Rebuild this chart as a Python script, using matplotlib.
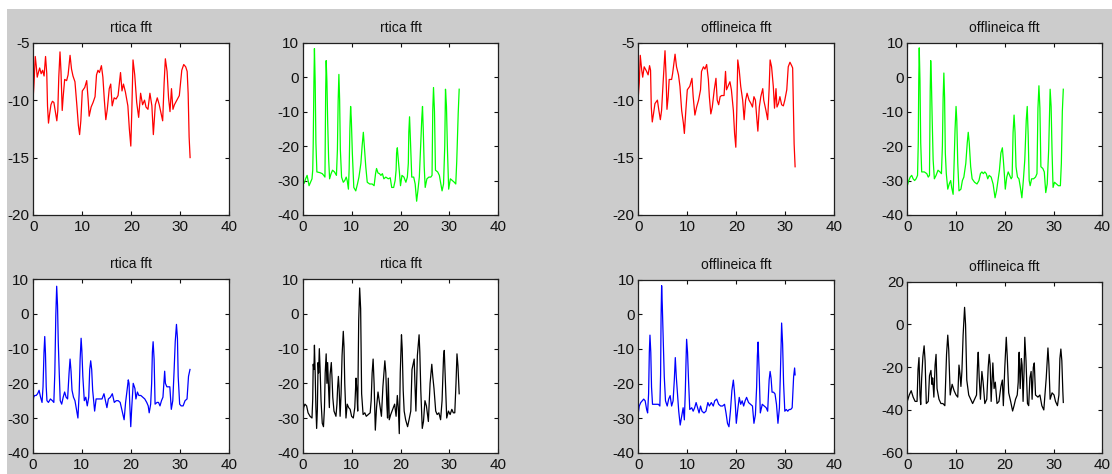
import matplotlib
matplotlib.use("Agg")
import matplotlib.pyplot as plt
from matplotlib.patches import Rectangle

plt.rcParams['font.family'] = ['Liberation Sans', 'DejaVu Sans']
plt.rcParams['axes.unicode_minus'] = False

# ---- spectra: (frequency bin, magnitude in dB) ----
rtica_ch1 = [(0, -9.6), (0.15, -8.5), (0.4, -6.2), (0.6, -7.0), (0.8, -8.0), (1.1, -7.5), (1.3, -7.2),
             (1.6, -7.7), (1.9, -7.4), (2.2, -7.9), (2.5, -6.2), (2.75, -7.7), (2.9, -10.5), (3.1, -12.0),
             (3.3, -11.3), (3.6, -10.4), (3.9, -10.1), (4.2, -10.2), (4.5, -11.0), (4.8, -11.8), (5.0, -10.9),
             (5.2, -8.0), (5.45, -5.8), (5.65, -7.5), (5.9, -10.9), (6.1, -9.7), (6.4, -8.2), (6.8, -8.3),
             (7.1, -7.8), (7.5, -6.1), (7.8, -7.3), (8.1, -7.9), (8.5, -8.4), (8.9, -10.5), (9.2, -12.2),
             (9.45, -13.0), (9.7, -11.8), (10.0, -9.2), (10.5, -8.9), (10.9, -8.3), (11.2, -10.0), (11.4, -11.4),
             (11.8, -10.6), (12.2, -10.2), (12.6, -9.7), (12.9, -7.8), (13.2, -7.4), (13.5, -7.6), (13.9, -7.0),
             (14.2, -8.0), (14.5, -10.0), (14.8, -11.7), (15.1, -10.8), (15.5, -9.0), (15.8, -8.6), (16.1, -10.5),
             (16.5, -9.8), (16.9, -9.9), (17.3, -9.6), (17.8, -7.6), (18.1, -9.2), (18.4, -8.6), (18.8, -9.3),
             (19.3, -10.5), (19.6, -12.5), (19.9, -14.0), (20.1, -11.0), (20.35, -6.5), (20.7, -7.8), (21.1, -10.2),
             (21.5, -11.5), (21.9, -9.4), (22.3, -10.4), (22.7, -10.0), (23.0, -10.6), (23.4, -10.8), (23.8, -9.4),
             (24.2, -10.5), (24.5, -13.0), (24.9, -10.4), (25.3, -9.8), (25.7, -10.4), (26.0, -11.0), (26.4, -11.8),
             (26.7, -8.5), (26.95, -6.4), (27.3, -7.5), (27.6, -9.8), (27.9, -11.0), (28.2, -9.0), (28.5, -10.8),
             (28.8, -10.4), (29.3, -10.0), (29.8, -9.6), (30.3, -7.4), (30.7, -6.9), (31.1, -7.1), (31.4, -7.5),
             (31.6, -9.4), (31.8, -13.2), (32.0, -15.0)]

rtica_ch2 = [(0, -30.5), (0.3, -30.8), (0.6, -29.5), (0.9, -28.5), (1.1, -30.0), (1.3, -31.5), (1.6, -30.5),
             (1.9, -29.5), (2.05, -27.0), (2.15, -19.5), (2.3, -1.0), (2.4, 8.3), (2.55, -1.2), (2.7, -19.0),
             (2.9, -27.5), (3.5, -27.7), (4.0, -28.0), (4.3, -28.5), (4.55, -29.0), (4.7, -4.0), (4.8, 4.8),
             (4.95, -1.2), (5.1, -12.5), (5.3, -23.5), (5.5, -29.5), (5.8, -28.0), (6.1, -27.0), (6.5, -27.5),
             (6.9, -28.5), (7.1, -21.0), (7.25, -7.0), (7.4, 0.8), (7.55, -6.5), (7.7, -21.0), (7.95, -29.0),
             (8.3, -30.5), (8.6, -30.0), (8.9, -29.0), (9.1, -30.0), (9.35, -32.5), (9.5, -26.5), (9.65, -15.0),
             (9.8, -8.5), (9.95, -12.5), (10.15, -22.0), (10.45, -32.0), (10.85, -33.0), (11.2, -31.0),
             (11.5, -29.0), (11.9, -25.0), (12.15, -20.0), (12.4, -16.0), (12.6, -20.0), (12.9, -26.0),
             (13.2, -30.5), (13.7, -31.0), (14.2, -31.0), (14.6, -31.5), (14.9, -28.0), (15.1, -26.5),
             (15.4, -27.8), (15.7, -28.0), (16.0, -28.5), (16.3, -28.0), (16.6, -29.5), (17.0, -29.0),
             (17.5, -29.5), (17.9, -29.2), (18.2, -32.0), (18.6, -32.0), (18.9, -30.0), (19.1, -27.0),
             (19.2, -22.0), (19.35, -20.5), (19.55, -24.0), (19.8, -28.0), (20.0, -31.5), (20.3, -28.5),
             (20.7, -29.0), (21.1, -30.5), (21.4, -29.0), (21.6, -25.0), (21.7, -16.0), (21.85, -11.5),
             (22.05, -19.0), (22.3, -29.0), (22.7, -29.0), (23.0, -31.0), (23.3, -36.0), (23.55, -33.0),
             (23.85, -29.0), (24.15, -19.0), (24.35, -12.0), (24.5, -8.5), (24.65, -15.0), (24.85, -26.0),
             (25.05, -32.0), (25.4, -29.5), (25.8, -29.0), (26.2, -29.0), (26.45, -28.5), (26.6, -9.5),
             (26.75, -3.0), (26.95, -10.0), (27.15, -27.0), (27.6, -27.5), (27.95, -28.5), (28.25, -31.0),
             (28.5, -33.0), (28.8, -31.0), (29.05, -20.0), (29.2, -3.5), (29.4, -8.5), (29.6, -21.0),
             (29.85, -32.5), (30.2, -29.5), (30.6, -30.0), (31.0, -30.5), (31.3, -31.0), (31.5, -24.5),
             (31.8, -10.5), (32.0, -3.5)]

rtica_ch3 = [(0, -26.0), (0.2, -24.0), (0.4, -23.5), (0.7, -23.5), (1.0, -23.0), (1.3, -22.0), (1.6, -24.0),
             (1.9, -25.5), (2.1, -21.0), (2.3, -11.0), (2.45, -6.5), (2.6, -11.5), (2.75, -21.0), (2.9, -25.0),
             (3.2, -25.5), (3.6, -24.5), (4.0, -25.0), (4.3, -25.5), (4.5, -17.0), (4.7, -0.5), (4.88, 8.0),
             (5.05, 2.5), (5.2, -8.0), (5.4, -17.0), (5.6, -25.0), (5.9, -26.0), (6.2, -24.0), (6.5, -22.5),
             (6.8, -24.0), (7.1, -24.5), (7.4, -17.0), (7.6, -13.0), (7.8, -16.5), (8.0, -22.0), (8.3, -24.0),
             (8.6, -25.0), (8.9, -27.5), (9.2, -30.0), (9.45, -23.0), (9.65, -13.0), (9.85, -7.0), (10.0, -10.5),
             (10.2, -18.0), (10.5, -25.0), (10.8, -24.0), (11.1, -26.5), (11.4, -24.0), (11.6, -16.0),
             (11.8, -13.5), (12.0, -16.0), (12.2, -22.0), (12.4, -25.0), (12.6, -28.0), (12.9, -24.5),
             (13.3, -24.5), (13.7, -24.5), (14.1, -24.5), (14.5, -23.0), (14.8, -25.0), (15.1, -27.0),
             (15.4, -24.5), (15.8, -24.0), (16.2, -23.0), (16.6, -25.5), (17.0, -25.0), (17.4, -25.0),
             (17.8, -25.5), (18.2, -28.0), (18.6, -30.5), (18.9, -25.5), (19.2, -22.0), (19.45, -19.0),
             (19.6, -20.0), (19.75, -26.0), (19.95, -32.5), (20.15, -27.0), (20.45, -20.0), (20.8, -21.5),
             (21.0, -24.5), (21.3, -22.5), (21.6, -23.5), (22.0, -23.5), (22.4, -24.0), (22.8, -24.5),
             (23.2, -25.5), (23.5, -26.5), (23.7, -28.5), (24.0, -26.0), (24.2, -20.0), (24.35, -11.0),
             (24.5, -8.0), (24.7, -13.0), (24.9, -26.0), (25.3, -25.5), (25.6, -25.5), (25.9, -26.5),
             (26.2, -25.0), (26.5, -24.0), (26.85, -16.5), (27.0, -20.0), (27.3, -21.0), (27.6, -21.0),
             (27.9, -21.0), (28.2, -27.5), (28.5, -25.0), (28.75, -17.0), (29.0, -8.0), (29.25, -3.0),
             (29.45, -7.0), (29.6, -18.0), (29.9, -26.0), (30.2, -26.5), (30.6, -26.5), (31.0, -25.0),
             (31.4, -24.5), (31.7, -18.0), (32.0, -16.0)]

rtica_ch4 = [(0, -30.5), (0.2, -27.0), (0.45, -26.0), (0.8, -26.5), (1.1, -28.5), (1.5, -29.5), (1.9, -30.0),
             (2.05, -24.5), (2.15, -14.5), (2.3, -16.0), (2.4, -9.0), (2.55, -17.0), (2.7, -27.0), (2.85, -33.0),
             (3.0, -27.5), (3.15, -14.0), (3.25, -17.0), (3.4, -10.0), (3.55, -15.5), (3.75, -25.0),
             (4.0, -31.5), (4.25, -32.5), (4.45, -27.0), (4.6, -17.0), (4.8, -11.5), (4.95, -20.0),
             (5.1, -14.0), (5.25, -20.0), (5.45, -27.0), (5.6, -17.5), (5.85, -14.0), (6.0, -18.5),
             (6.15, -24.0), (6.4, -28.0), (6.8, -29.5), (7.0, -26.0), (7.15, -21.0), (7.3, -18.0),
             (7.45, -21.5), (7.65, -29.5), (7.85, -23.0), (8.05, -12.0), (8.3, -5.0), (8.45, -9.5),
             (8.6, -20.0), (8.85, -30.0), (9.1, -26.0), (9.4, -27.0), (9.7, -27.5), (10.0, -29.5),
             (10.35, -30.0), (10.65, -27.0), (10.9, -18.5), (11.05, -21.5), (11.25, -28.0), (11.45, -2.0),
             (11.65, 7.5), (11.85, 1.5), (12.05, -23.0), (12.35, -29.0), (12.7, -28.5), (13.0, -29.5),
             (13.4, -29.0), (13.8, -28.5), (14.0, -25.0), (14.2, -17.0), (14.4, -13.0), (14.6, -20.0),
             (14.85, -33.5), (15.1, -27.0), (15.4, -22.5), (15.65, -25.0), (16.1, -29.5), (16.4, -21.0),
             (16.8, -13.5), (17.0, -17.0), (17.2, -26.0), (17.35, -30.0), (17.5, -18.5), (17.7, -30.5),
             (18.0, -29.0), (18.4, -27.5), (18.8, -26.0), (19.1, -29.5), (19.35, -23.5), (19.55, -27.0),
             (19.75, -34.5), (19.95, -17.0), (20.2, -6.0), (20.35, -10.0), (20.55, -22.0), (20.75, -28.0),
             (21.05, -30.5), (21.45, -32.5), (21.75, -30.5), (22.1, -28.0), (22.35, -16.0), (22.8, -13.0),
             (22.95, -20.0), (23.15, -28.0), (23.45, -12.0), (23.8, -6.0), (23.95, -11.0), (24.15, -22.0),
             (24.45, -33.0), (24.7, -31.0), (25.0, -25.0), (25.3, -26.5), (25.7, -31.0), (26.05, -20.0),
             (26.4, -14.5), (26.6, -18.0), (26.85, -21.5), (27.2, -28.0), (27.5, -29.0), (27.85, -28.5),
             (28.2, -30.5), (28.5, -25.0), (28.8, -12.5), (28.95, -10.5), (29.15, -18.5), (29.45, -30.0),
             (29.8, -28.0), (30.15, -29.0), (30.5, -27.5), (30.8, -28.5), (31.1, -28.5), (31.35, -20.0),
             (31.55, -11.5), (31.75, -15.0), (32.0, -23.0)]

offline_ch1 = [(0, -9.7), (0.2, -8.5), (0.4, -6.1), (0.7, -7.4), (0.9, -8.0), (1.2, -7.1), (1.7, -7.5),
               (2.0, -7.8), (2.3, -7.0), (2.5, -7.4), (2.65, -10.6), (2.85, -11.9), (3.1, -11.2), (3.4, -10.3),
               (3.9, -10.0), (4.2, -10.9), (4.5, -11.7), (4.75, -10.9), (5.1, -8.2), (5.45, -5.7), (5.65, -7.7),
               (5.85, -10.8), (6.1, -9.7), (6.3, -8.2), (6.8, -8.2), (7.0, -7.7), (7.5, -6.0), (7.8, -7.1),
               (8.2, -7.8), (8.5, -8.8), (8.85, -10.9), (9.2, -12.0), (9.4, -12.9), (9.7, -10.9), (10.0, -9.1),
               (10.5, -8.8), (10.95, -8.1), (11.2, -9.7), (11.55, -11.3), (11.9, -10.6), (12.3, -10.0),
               (12.7, -9.1), (12.9, -7.5), (13.3, -7.1), (13.6, -7.3), (13.95, -6.9), (14.3, -8.2), (14.5, -9.7),
               (14.8, -11.2), (15.1, -10.6), (15.5, -9.1), (15.85, -8.1), (16.1, -10.0), (16.4, -10.4),
               (16.7, -9.7), (17.0, -9.6), (17.5, -9.6), (17.8, -7.5), (18.0, -9.1), (18.4, -8.7), (18.7, -8.4),
               (19.0, -9.1), (19.4, -10.9), (19.65, -12.9), (19.9, -14.1), (20.1, -10.9), (20.3, -6.5),
               (20.6, -7.4), (20.9, -8.8), (21.3, -10.0), (21.6, -11.7), (21.9, -10.0), (22.2, -9.4),
               (22.6, -10.0), (23.0, -10.3), (23.3, -10.6), (23.6, -9.7), (23.9, -10.0), (24.15, -11.4),
               (24.4, -12.7), (24.7, -10.6), (25.0, -9.7), (25.4, -9.0), (25.6, -10.0), (26.05, -10.9),
               (26.4, -11.7), (26.7, -9.0), (26.9, -6.5), (27.2, -7.1), (27.55, -8.8), (27.8, -10.7),
               (28.1, -9.0), (28.3, -10.6), (28.6, -10.3), (28.9, -9.7), (29.25, -10.4), (29.6, -10.5),
               (29.9, -10.0), (30.3, -9.1), (30.6, -7.1), (30.95, -6.7), (31.3, -7.0), (31.5, -7.2),
               (31.6, -9.4), (31.8, -13.8), (32.0, -15.8)]

offline_ch2 = [(0, -31.5), (0.3, -30.0), (0.6, -29.0), (0.9, -28.5), (1.2, -29.5), (1.5, -30.0), (1.8, -29.5),
               (2.1, -28.5), (2.25, -19.0), (2.35, -1.0), (2.45, 8.5), (2.6, -1.0), (2.75, -19.0), (2.95, -27.5),
               (3.5, -27.5), (4.0, -28.0), (4.3, -29.0), (4.55, -28.5), (4.7, -4.0), (4.8, 4.8), (4.95, -1.5),
               (5.1, -12.0), (5.3, -24.0), (5.55, -29.5), (5.9, -28.5), (6.3, -27.0), (6.7, -27.5), (7.0, -28.0),
               (7.2, -20.0), (7.35, -6.0), (7.5, 1.2), (7.65, -6.0), (7.8, -22.0), (8.0, -28.0), (8.3, -32.5),
               (8.6, -31.0), (8.9, -30.0), (9.1, -32.0), (9.4, -34.0), (9.6, -25.0), (9.8, -15.0), (10.0, -8.5),
               (10.15, -12.5), (10.35, -25.0), (10.6, -33.0), (11.0, -32.5), (11.3, -30.0), (11.6, -29.0),
               (12.0, -25.0), (12.3, -19.0), (12.5, -16.0), (12.7, -19.0), (13.0, -26.0), (13.3, -29.5),
               (13.8, -30.5), (14.3, -31.0), (14.7, -30.0), (15.0, -28.0), (15.3, -27.5), (15.6, -28.0),
               (15.9, -27.5), (16.2, -28.0), (16.5, -29.5), (16.8, -28.5), (17.2, -29.0), (17.6, -31.0),
               (18.0, -35.0), (18.3, -33.0), (18.6, -30.0), (18.9, -27.0), (19.2, -22.0), (19.5, -20.5),
               (19.7, -24.0), (19.9, -28.0), (20.1, -32.5), (20.4, -29.0), (20.7, -27.5), (21.0, -28.5),
               (21.3, -29.5), (21.5, -29.0), (21.7, -16.0), (21.9, -11.0), (22.1, -16.0), (22.3, -26.0),
               (22.6, -29.0), (22.9, -29.5), (23.2, -32.0), (23.5, -35.0), (23.8, -30.0), (24.1, -24.0),
               (24.4, -12.5), (24.6, -8.5), (24.8, -17.0), (25.0, -30.0), (25.2, -31.5), (25.5, -29.5),
               (25.9, -29.5), (26.3, -29.0), (26.6, -28.0), (26.8, -9.0), (27.0, -2.5), (27.2, -9.0),
               (27.4, -26.0), (27.8, -26.5), (28.1, -27.5), (28.4, -33.5), (28.7, -31.0), (29.0, -21.0),
               (29.3, -3.5), (29.5, -8.5), (29.7, -22.0), (29.9, -32.0), (30.2, -30.5), (30.6, -31.0),
               (31.0, -31.5), (31.4, -31.5), (31.6, -25.0), (31.8, -10.0), (32.0, -3.5)]

offline_ch3 = [(0, -28.5), (0.2, -26.5), (0.5, -25.5), (0.8, -25.0), (1.1, -24.5), (1.4, -25.0), (1.7, -27.5),
               (1.9, -28.5), (2.1, -23.0), (2.25, -11.0), (2.38, -6.0), (2.55, -11.0), (2.7, -21.0), (2.9, -26.0),
               (3.3, -26.0), (3.7, -26.0), (4.1, -26.0), (4.4, -26.5), (4.55, -17.5), (4.65, -0.5), (4.76, 8.3),
               (4.9, 2.5), (5.1, -8.0), (5.3, -18.0), (5.55, -25.0), (5.9, -26.5), (6.2, -24.5), (6.5, -23.5),
               (6.8, -26.5), (7.1, -25.0), (7.35, -19.0), (7.55, -12.5), (7.75, -18.0), (7.95, -22.0),
               (8.25, -28.0), (8.55, -32.0), (8.85, -29.5), (9.15, -27.0), (9.4, -30.5), (9.6, -22.0),
               (9.75, -13.0), (9.86, -7.2), (10.05, -11.0), (10.25, -19.0), (10.5, -27.5), (10.9, -27.0),
               (11.2, -28.0), (11.5, -27.0), (11.8, -25.5), (12.1, -27.0), (12.4, -28.5), (12.7, -26.5),
               (13.0, -28.0), (13.4, -28.5), (13.8, -28.0), (14.2, -25.5), (14.5, -26.5), (14.9, -25.5),
               (15.3, -26.5), (15.6, -25.0), (16.0, -24.5), (16.4, -26.0), (16.8, -26.5), (17.2, -26.5),
               (17.6, -26.0), (17.9, -28.5), (18.2, -31.5), (18.5, -32.5), (18.8, -28.0), (19.1, -22.0),
               (19.4, -19.0), (19.6, -22.0), (19.8, -26.0), (20.0, -31.5), (20.3, -27.5), (20.6, -24.0),
               (20.9, -26.0), (21.2, -25.0), (21.5, -26.5), (21.8, -25.0), (22.1, -24.0), (22.5, -25.5),
               (22.9, -26.0), (23.3, -26.5), (23.6, -31.5), (23.9, -29.0), (24.15, -21.0), (24.3, -12.0),
               (24.45, -8.0), (24.65, -16.0), (24.9, -28.5), (25.3, -26.0), (25.7, -26.5), (26.1, -27.0),
               (26.4, -28.0), (26.7, -19.0), (26.9, -16.5), (27.1, -18.5), (27.3, -22.5), (27.6, -22.5),
               (27.9, -23.0), (28.2, -26.0), (28.5, -31.5), (28.8, -27.0), (29.0, -17.0), (29.15, -8.5),
               (29.25, -2.5), (29.45, -8.5), (29.65, -20.0), (29.9, -28.0), (30.2, -27.5), (30.5, -28.0),
               (30.8, -27.5), (31.1, -27.5), (31.4, -27.0), (31.7, -18.0), (31.9, -15.5), (32.0, -17.5)]

offline_ch4 = [(0, -36.0), (0.4, -33.0), (0.8, -31.0), (1.2, -34.0), (1.6, -36.0), (2.0, -36.0), (2.2, -21.0),
               (2.4, -15.5), (2.6, -33.0), (2.75, -37.5), (2.95, -25.0), (3.2, -15.0), (3.45, -10.0),
               (3.65, -17.0), (3.9, -37.0), (4.3, -36.0), (4.55, -24.0), (4.85, -21.5), (5.05, -28.0),
               (5.2, -25.0), (5.45, -34.0), (5.7, -19.0), (5.9, -14.0), (6.1, -30.0), (6.5, -35.0), (6.9, -37.0),
               (7.3, -37.0), (7.7, -38.0), (8.05, -14.0), (8.3, -5.0), (8.5, -12.0), (8.8, -33.0), (9.2, -28.0),
               (9.6, -31.0), (10.0, -33.0), (10.35, -34.0), (10.6, -19.0), (10.8, -23.0), (11.0, -29.0),
               (11.2, -22.0), (11.45, -5.0), (11.75, 8.0), (11.95, 0.0), (12.2, -26.0), (12.6, -33.0),
               (13.0, -35.0), (13.4, -37.0), (13.8, -35.0), (14.2, -33.0), (14.4, -19.0), (14.55, -13.0),
               (14.75, -25.0), (15.0, -35.0), (15.3, -22.0), (15.55, -27.0), (15.9, -37.0), (16.3, -35.0),
               (16.6, -20.0), (16.8, -14.0), (17.0, -19.0), (17.2, -36.0), (17.55, -18.0), (17.8, -30.0),
               (18.05, -27.0), (18.4, -37.0), (18.8, -36.0), (19.2, -29.0), (19.5, -26.0), (19.7, -38.0),
               (20.0, -20.0), (20.3, -6.0), (20.5, -15.0), (20.8, -32.0), (21.2, -36.0), (21.6, -40.5),
               (21.9, -38.0), (22.2, -35.0), (22.55, -33.0), (22.75, -27.0), (22.85, -17.0), (22.95, -13.0),
               (23.15, -30.0), (23.4, -16.0), (23.55, -19.0), (23.75, -36.0), (23.95, -22.0), (24.1, -6.0),
               (24.35, -17.0), (24.65, -37.0), (24.9, -38.0), (25.15, -25.0), (25.4, -22.0), (25.6, -35.0),
               (25.85, -20.0), (26.05, -18.0), (26.3, -33.0), (26.8, -34.0), (27.2, -33.0), (27.6, -38.0),
               (28.0, -40.0), (28.5, -25.0), (28.85, -11.0), (29.05, -19.0), (29.3, -35.0), (29.7, -32.0),
               (30.1, -33.0), (30.4, -36.0), (30.8, -38.0), (31.1, -33.0), (31.3, -16.0), (31.5, -11.5),
               (31.7, -17.0), (31.9, -31.0), (32.0, -36.5)]

# ---- layout ----
W, H = 1112, 474
fig = plt.figure(figsize=(W / 100, H / 100), dpi=100, facecolor='white')
fig.patches.append(Rectangle((7 / W, 0), 1 - 7 / W, 1 - 9 / H, transform=fig.transFigure,
                             facecolor='#cccccc', edgecolor='none', zorder=-10))

# axes boxes in pixels: left, top, right, bottom
boxes = [
    (33.3, 42.7, 229.3, 215.0), (302.7, 42.7, 498.3, 215.0),
    (638.3, 42.7, 834.3, 215.0), (907.3, 42.7, 1102.3, 215.0),
    (32.7, 279.3, 229.3, 452.7), (302.7, 279.3, 498.3, 452.7),
    (638.3, 279.8, 834.3, 452.7), (907.3, 281.7, 1102.3, 452.7),
]

panels = [
    (rtica_ch1, '#ff0000', 'rtica fft', (-20, -5), [-20, -15, -10, -5]),
    (rtica_ch2, '#00ff00', 'rtica fft', (-40, 10), [-40, -30, -20, -10, 0, 10]),
    (offline_ch1, '#ff0000', 'offlineica fft', (-20, -5), [-20, -15, -10, -5]),
    (offline_ch2, '#00ff00', 'offlineica fft', (-40, 10), [-40, -30, -20, -10, 0, 10]),
    (rtica_ch3, '#0000ff', 'rtica fft', (-40, 10), [-40, -30, -20, -10, 0, 10]),
    (rtica_ch4, '#000000', 'rtica fft', (-40, 10), [-40, -30, -20, -10, 0, 10]),
    (offline_ch3, '#0000ff', 'offlineica fft', (-40, 10), [-40, -30, -20, -10, 0, 10]),
    (offline_ch4, '#000000', 'offlineica fft', (-60, 20), [-60, -40, -20, 0, 20]),
]

for (l, t, r, b), (series, color, title, ylim, yticks) in zip(boxes, panels):
    ax = fig.add_axes([l / W, 1 - b / H, (r - l) / W, (b - t) / H])
    ax.set_facecolor('white')
    xs = [p[0] for p in series]
    ys = [p[1] for p in series]
    ax.plot(xs, ys, color=color, lw=0.9)
    ax.set_xlim(0, 40)
    ax.set_ylim(*ylim)
    ax.set_xticks([0, 10, 20, 30, 40])
    ax.set_yticks(yticks)
    ax.tick_params(direction='in', top=True, right=True, length=3, width=0.8,
                   labelsize=11, pad=2.5, colors='#111111')
    ax.tick_params(axis='x', pad=3.5)
    for s in ax.spines.values():
        s.set_linewidth(0.9)
        s.set_color('#202020')
    ax.set_title(title, fontsize=10, pad=8, color='#111111')

fig.savefig('out.png', dpi=100, facecolor=fig.get_facecolor())
